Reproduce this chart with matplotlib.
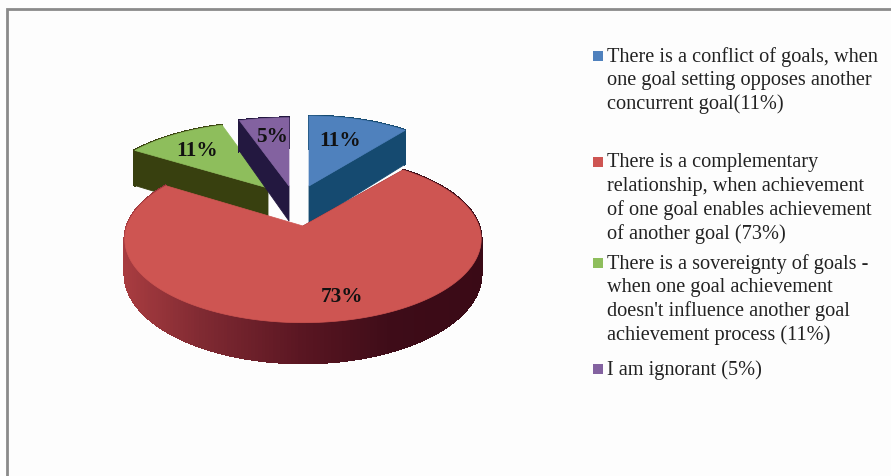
import numpy as np
import matplotlib
matplotlib.use("Agg")
import matplotlib.pyplot as plt

# ---- data ----
categories = ["Conflict of goals", "Complementary relationship", "Sovereignty of goals", "Ignorant"]
values = [11, 73, 11, 5]
value_labels = ["11%", "73%", "11%", "5%"]
legend_lines = [
    ["There is a conflict of goals, when", "one goal setting opposes another", "concurrent goal(11%)"],
    ["There is a complementary", "relationship, when achievement", "of one goal enables achievement", "of another goal (73%)"],
    ["There is a sovereignty of goals -", "when one goal achievement", "doesn't influence another goal", "achievement process (11%)"],
    ["I am ignorant (5%)"],
]

# ---- style / layout ----
top_colors = ["#4F81BD", "#CE5552", "#8EBE5C", "#8362A0"]
side_colors = ["#154A70", "#7A2028", "#38400F", "#231840"]
apex = [(309, 187), (303, 227), (268, 189), (289, 187)]
x_scale = [169, 176, 171, 184]
y_scale = [81, 81.5, 76, 79]
persp = 0.157
depth = [38, 34, 38, 35]
label_frac = [(0.62, 0.72), (1.2, 0.71), (0.76, 0.75), (0.68, 0.77)]
draw_order = [2, 3, 0, 1]
cut_edge = [1, 0, 0, 0]
legend_first_y = [57, 163, 264, 370]
line_step = 23.7
legend_text_x = 607
legend_box_x = 593
serif = "Liberation Serif"

fig = plt.figure(figsize=(8.91, 4.77), dpi=100, facecolor="#FDFDFD")
ax = fig.add_axes([0, 0, 1, 1])
ax.set_xlim(0, 891)
ax.set_ylim(477, 0)
ax.axis("off")


def project(i, t):
    X, Y = np.sin(t), np.cos(t)
    den = 1 + persp * Y
    return apex[i][0] + x_scale[i] * X / den, apex[i][1] - y_scale[i] * Y / den, den


def rim_color(x):
    stops_x = [124, 200, 300, 390, 482]
    r = np.interp(x, stops_x, [168, 128, 90, 62, 58])
    g = np.interp(x, stops_x, [60, 42, 22, 12, 10])
    b = np.interp(x, stops_x, [64, 50, 34, 24, 22])
    return (r / 255, g / 255, b / 255)


edges = np.concatenate([[0], np.cumsum(values)]) / np.sum(values) * 2 * np.pi

for i in draw_order:
    t0, t1 = edges[i], edges[i + 1]
    ts = np.linspace(t0, t1, 260)
    xs, ys, dens = project(i, ts)
    layer = draw_order.index(i) * 2

    # outer rim, shaded by horizontal position
    for k in range(len(ts) - 1):
        d0, d1 = depth[i] / dens[k], depth[i] / dens[k + 1]
        qx = [xs[k], xs[k + 1], xs[k + 1], xs[k]]
        qy = [ys[k], ys[k + 1], ys[k + 1] + d1, ys[k] + d0]
        c = rim_color((xs[k] + xs[k + 1]) / 2) if i == 1 else side_colors[i]
        ax.fill(qx, qy, color=c, lw=1.2, antialiased=False, zorder=2 + layer)

    # radial cut face that looks to the viewer
    cut = t1 if cut_edge[i] else t0
    ex, ey, ed = project(i, cut)
    ax_, ay_ = apex[i]
    ax.fill([ax_, ex, ex, ax_], [ay_, ey, ey + depth[i] / ed, ay_ + depth[i]],
            color=side_colors[i], lw=0.6, zorder=2 + layer)

    # top face
    ax.fill(np.r_[ax_, xs], np.r_[ay_, ys], color=top_colors[i], lw=0.5, zorder=3 + layer)

    # value label
    mid = (t0 + t1) / 2
    mx, my, _ = project(i, mid)
    fx, fy = label_frac[i]
    ax.text(ax_ + (mx - ax_) * fx, ay_ + (my - ay_) * fy + 2, value_labels[i],
            family=serif, weight="bold", fontsize=15.3, color="#111111",
            ha="center", va="center", zorder=20)

# legend
for i, lines in enumerate(legend_lines):
    y0 = legend_first_y[i]
    ax.scatter([legend_box_x + 5], [y0], marker="s", s=62, color=top_colors[i], lw=0, zorder=20)
    for j, line in enumerate(lines):
        ax.text(legend_text_x, y0 + j * line_step, line, family=serif, fontsize=14.55,
                color="#222222", ha="left", va="center", zorder=20)

# frame of the chart area (left and top only)
ax.plot([7, 7, 891], [477, 10, 10], color="#8A8A8A", lw=2.0, solid_joinstyle="miter", zorder=1)

fig.savefig("out.png", dpi=100, facecolor=fig.get_facecolor())
